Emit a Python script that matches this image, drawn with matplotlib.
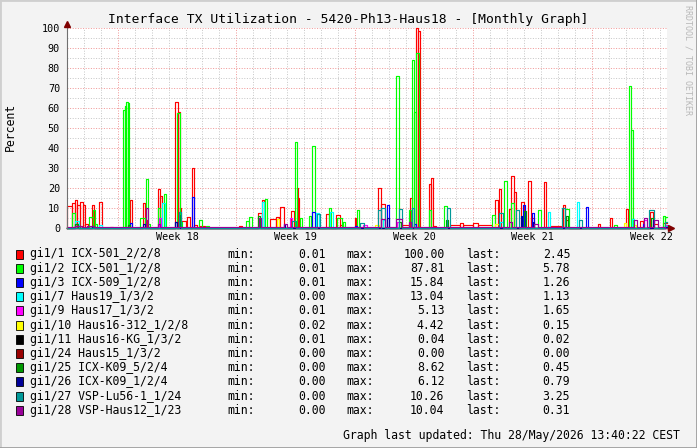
import matplotlib
matplotlib.use('Agg')
import matplotlib.pyplot as plt
from matplotlib.patches import Rectangle
from matplotlib.lines import Line2D

W, H = 697, 448
MONO = 'DejaVu Sans Mono'

# time axis in days from the left edge of the graph
T_END = 35.44
WEEK_STARTS = [3, 10, 17, 24, 31]
WEEK_LABELS = ['Week 18', 'Week 19', 'Week 20', 'Week 21', 'Week 22']

TITLE = 'Interface TX Utilization - 5420-Ph13-Haus18 - [Monthly Graph]'

# series: (start_day, end_day, percent) bursts, baseline between them
red = [(0.00, 0.30, 11), (0.30, 0.45, 12.5), (0.45, 0.62, 14), (0.62, 0.77, 11.5), (0.77, 0.92, 13),
       (0.92, 1.06, 11.5), (1.06, 1.24, 2), (1.48, 1.62, 11.5), (1.89, 2.07, 13), (2.54, 2.72, 0.8),
       (3.72, 3.84, 14), (4.49, 4.61, 12.5), (4.61, 4.73, 4), (5.38, 5.50, 19.5), (5.50, 5.64, 16),
       (6.38, 6.56, 63), (6.56, 6.67, 58), (6.67, 6.73, 10), (6.73, 7.03, 3.5), (7.09, 7.27, 5.5),
       (7.38, 7.50, 30), (7.50, 7.70, 1.5), (7.86, 8.15, 1), (10.16, 10.34, 1), (11.28, 11.52, 7.8),
       (11.52, 11.64, 14), (12.00, 12.35, 4.5), (12.35, 12.52, 5.5), (12.58, 12.82, 10.8),
       (13.23, 13.41, 8.6), (13.59, 13.65, 20), (13.65, 13.71, 15), (15.30, 15.48, 7), (15.89, 16.13, 6.5),
       (16.13, 16.30, 1.5), (17.01, 17.07, 5), (18.37, 18.55, 20), (18.55, 18.78, 12), (19.80, 20.20, 1.5),
       (20.26, 20.38, 15), (20.61, 20.73, 100), (20.73, 20.85, 98.5), (21.38, 21.50, 22), (21.50, 21.62, 25),
       (21.62, 21.80, 1), (22.62, 23.20, 1.6), (23.20, 23.40, 2.6), (23.40, 24.00, 1.6), (24.00, 24.30, 2.5),
       (24.30, 25.10, 1.6), (25.28, 25.46, 14), (25.52, 25.63, 19.5), (26.11, 26.23, 9.5), (26.23, 26.40, 26),
       (26.40, 26.52, 18), (26.82, 27.00, 13), (27.23, 27.41, 23.5), (27.41, 27.58, 5), (28.17, 28.29, 23),
       (28.53, 29.20, 1), (29.30, 29.42, 11.6), (29.42, 29.60, 4), (31.36, 31.48, 2), (32.07, 32.19, 5),
       (33.02, 33.14, 9.5), (33.84, 34.02, 3.5), (34.45, 34.60, 8), (34.60, 34.90, 2), (35.20, 35.44, 2.45)]
green = [(0.30, 0.47, 7.6), (0.47, 0.70, 2), (1.30, 1.54, 5.8), (1.54, 1.65, 9), (1.65, 1.80, 2),
         (3.31, 3.43, 59), (3.43, 3.49, 61), (3.49, 3.60, 63), (3.60, 3.66, 62.5), (4.31, 4.61, 5),
         (4.67, 4.78, 24.5), (4.78, 4.90, 2), (5.38, 5.49, 10), (5.73, 5.85, 17), (6.50, 6.67, 57.5),
         (6.67, 6.80, 3), (7.80, 7.97, 4), (8.20, 8.40, 1), (10.57, 10.75, 3.5), (10.75, 10.93, 5.5),
         (11.70, 11.81, 14.5), (13.47, 13.59, 43), (13.76, 13.88, 5), (14.29, 14.41, 6), (14.47, 14.65, 41),
         (15.48, 15.60, 10), (15.95, 16.24, 5), (16.30, 16.42, 3), (17.13, 17.25, 9), (19.43, 19.61, 76),
         (20.20, 20.32, 9), (20.38, 20.50, 84), (20.50, 20.61, 58), (20.61, 20.79, 87.8), (21.38, 21.50, 9),
         (22.27, 22.45, 11), (25.10, 25.28, 6.7), (25.81, 25.99, 23.5), (26.23, 26.40, 12.5),
         (27.82, 28.00, 9), (29.42, 29.65, 9.5), (32.30, 32.50, 1.5), (33.19, 33.31, 71), (33.31, 33.43, 49),
         (35.19, 35.31, 6), (35.31, 35.44, 5.78)]
blue = [(0.47, 0.70, 2), (3.72, 3.84, 2.5), (6.38, 6.50, 3), (7.38, 7.50, 15.8), (14.47, 14.65, 8.3),
        (17.00, 17.10, 1), (18.90, 19.02, 11.6), (20.50, 20.60, 2), (26.94, 27.05, 11.5), (27.47, 27.58, 7.5),
        (30.65, 30.77, 10.8), (34.00, 34.10, 2), (35.30, 35.44, 1.26)]
cyan = [(0.47, 0.71, 3.8), (1.89, 2.07, 1.5), (5.61, 5.79, 12.6), (11.52, 11.64, 13), (14.71, 14.88, 7.5),
        (15.54, 15.71, 8.3), (18.66, 18.78, 4), (25.60, 25.75, 3), (28.41, 28.53, 8.3), (30.12, 30.24, 13),
        (33.37, 33.49, 4.5), (35.30, 35.44, 1.13)]
magenta = [(5.43, 5.55, 5.1), (11.34, 11.46, 4.5), (13.17, 13.29, 5), (17.50, 17.70, 1.5), (19.50, 19.60, 3),
           (26.80, 26.90, 3), (34.10, 34.25, 4), (35.30, 35.44, 1.65)]
yellow = [(12.40, 12.52, 4.4), (18.20, 18.40, 1.5), (25.30, 25.50, 2), (32.90, 33.02, 2.5),
          (33.50, 33.60, 1.5), (35.30, 35.44, 0.15)]
black = [(12.00, 12.20, 0.04)]
darkred = []
darkgreen = [(0.47, 0.65, 2), (3.60, 3.72, 1.5), (6.60, 6.70, 6.5), (11.30, 11.40, 6), (19.60, 19.70, 3),
             (22.40, 22.50, 4), (27.00, 27.10, 8.6), (29.50, 29.60, 6), (34.50, 34.60, 5), (35.30, 35.44, 0.45)]
navy = [(1.50, 1.60, 1), (4.50, 4.60, 2), (6.40, 6.50, 3), (12.80, 12.90, 2), (18.90, 19.00, 5),
        (26.80, 26.90, 6.1), (27.50, 27.60, 3), (34.60, 34.70, 4), (35.30, 35.44, 0.79)]
teal = [(6.62, 6.73, 8.3), (13.30, 13.50, 3.5), (14.75, 14.95, 7.2), (17.31, 17.54, 2.5), (18.37, 18.55, 9),
        (18.55, 18.78, 10), (19.61, 19.79, 9.5), (20.38, 20.50, 10), (22.45, 22.62, 10), (25.52, 25.75, 7.8),
        (26.52, 26.70, 9), (29.24, 29.42, 10.26), (30.24, 30.40, 4), (34.37, 34.66, 9), (35.31, 35.44, 3.25)]
purple = [(0.50, 0.90, 1), (1.20, 1.60, 1), (4.67, 4.78, 10), (5.40, 5.50, 2), (11.34, 11.46, 5),
          (12.80, 13.00, 2), (18.55, 18.78, 4.5), (19.43, 19.79, 4.5), (20.20, 20.30, 3), (26.10, 26.30, 3),
          (27.60, 27.80, 2), (33.49, 33.66, 4), (34.07, 34.25, 5), (34.66, 34.90, 4), (35.31, 35.44, 0.31)]

SERIES = [red, green, blue, cyan, magenta, yellow, black, darkred, darkgreen, navy, teal, purple]
BASES = [0.2, 0.3, 0.2, 0.2, 0.3, 0.1, 0.02, 0.0, 0.2, 0.3, 0.2, 0.4]
COLORS = ['#FF0000', '#00FF00', '#0000FF', '#00FFFF', '#FF00FF', '#FFFF00',
          '#000000', '#990000', '#009900', '#000099', '#009999', '#990099']
LABELS = ['gi1/1 ICX-501_2/2/8', 'gi1/2 ICX-501_1/2/8', 'gi1/3 ICX-509_1/2/8', 'gi1/7 Haus19_1/3/2',
          'gi1/9 Haus17_1/3/2', 'gi1/10 Haus16-312_1/2/8', 'gi1/11 Haus16-KG_1/3/2', 'gi1/24 Haus15_1/3/2',
          'gi1/25 ICX-K09_5/2/4', 'gi1/26 ICX-K09_1/2/4', 'gi1/27 VSP-Lu56-1_1/24', 'gi1/28 VSP-Haus12_1/23']
MINS = [0.01, 0.01, 0.01, 0.00, 0.01, 0.02, 0.01, 0.00, 0.00, 0.00, 0.00, 0.00]
MAXS = [100.00, 87.81, 15.84, 13.04, 5.13, 4.42, 0.04, 0.00, 8.62, 6.12, 10.26, 10.04]
LASTS = [2.45, 5.78, 1.26, 1.13, 1.65, 0.15, 0.02, 0.00, 0.45, 0.79, 3.25, 0.31]
UPDATED = 'Graph last updated: Thu 28/May/2026 13:40:22 CEST'


def _steps(events, base):
	xs, ys = [0.0], [base]
	for a, b, v in events:
		if b >= T_END:
			xs += [a, T_END]
			ys += [v, v]
			return xs, ys
		xs += [a, b]
		ys += [v, base]
	xs.append(T_END)
	ys.append(base)
	return xs, ys


fy = lambda y: 1 - y / float(H)
fx = lambda x: x / float(W)

fig = plt.figure(figsize=(W / 100., H / 100.), dpi=100, facecolor='#F3F3F3')
ax = fig.add_axes([fx(67), fy(228.3), 600. / W, 200. / H])
ax.set_facecolor('#FFFFFF')
ax.set_xlim(0, T_END)
ax.set_ylim(0, 100)
for s in ax.spines.values():
	s.set_visible(False)

# grid: minor gray, major red, both dotted
dots = (0, (1, 1.6))
GRID = dict(lw=0.72, ls=dots, zorder=1)
for d in range(1, 36):
	if d not in WEEK_STARTS:
		ax.axvline(d, color='#C8C8C8', **GRID)
for p in range(5, 100, 10):
	ax.axhline(p, color='#C8C8C8', **GRID)
for d in WEEK_STARTS:
	ax.axvline(d, color='#F09A9A', **GRID)
for p in range(10, 101, 10):
	ax.axhline(p, color='#F09A9A', **GRID)

# data lines, drawn in legend order (purple last, on top)
for i, ev in enumerate(SERIES):
	xs, ys = _steps(ev, BASES[i])
	ax.plot(xs, ys, drawstyle='steps-post', color=COLORS[i], lw=0.85, zorder=3 + i, clip_on=False)

# axes with arrows
ax.plot([0, 0], [0, 102], color='#707070', lw=0.8, clip_on=False, zorder=20)
ax.plot([0, 35.6], [0, 0], color='#707070', lw=0.8, clip_on=False, zorder=2)
ax.plot([0], [102.3], marker='^', ms=4.5, color='#7F0000', clip_on=False, zorder=21)
ax.plot([35.7], [0], marker='>', ms=4.5, color='#7F0000', clip_on=False, zorder=21)

ax.set_yticks(range(0, 101, 10))
ax.set_yticklabels([str(v) for v in range(0, 101, 10)], family=MONO, fontsize=7.3)
ax.set_xticks([w + 3.5 for w in WEEK_STARTS])
ax.set_xticklabels(WEEK_LABELS, family=MONO, fontsize=7.3)
ax.tick_params(axis='both', length=0)
ax.tick_params(axis='y', pad=5)
ax.tick_params(axis='x', pad=3)

# texts
fig.text(fx(348), fy(19), TITLE, family=MONO, fontsize=9.4, ha='center', va='center')
fig.text(fx(10), fy(127), 'Percent', family=MONO, fontsize=8.3, rotation=90, ha='center', va='center')
fig.text(fx(688), fy(5), 'RRDTOOL / TOBI OETIKER', family=MONO, fontsize=6, rotation=-90,
         ha='center', va='top', color='#B8B8B8')

# legend
for i in range(len(LABELS)):
	y = 254 + 14.2 * i
	fig.add_artist(Rectangle((fx(15.5), fy(y + 4.5)), 7.5 / W, 9. / H, transform=fig.transFigure,
	                         facecolor=COLORS[i], edgecolor='#000000', lw=0.6))
	fig.text(fx(30), fy(y), LABELS[i], family=MONO, fontsize=8.3, ha='left', va='center')
	fig.text(fx(227.6), fy(y), 'min:', family=MONO, fontsize=8.3, ha='left', va='center')
	fig.text(fx(325.3), fy(y), '%.2f' % MINS[i], family=MONO, fontsize=8.3, ha='right', va='center')
	fig.text(fx(346.7), fy(y), 'max:', family=MONO, fontsize=8.3, ha='left', va='center')
	fig.text(fx(444.4), fy(y), '%.2f' % MAXS[i], family=MONO, fontsize=8.3, ha='right', va='center')
	fig.text(fx(465.8), fy(y), 'last:', family=MONO, fontsize=8.3, ha='left', va='center')
	fig.text(fx(570.2), fy(y), '%.2f' % LASTS[i], family=MONO, fontsize=8.3, ha='right', va='center')

fig.text(fx(680), fy(435), UPDATED, family=MONO, fontsize=8.3, ha='right', va='center')

# 3d frame
fig.add_artist(Line2D([0, 0, 1], [0, 1, 1], transform=fig.transFigure, color='#CFCFCF', lw=2))
fig.add_artist(Line2D([0, 1, 1], [0, 0, 1], transform=fig.transFigure, color='#9E9E9E', lw=2))

plt.savefig('out.png', dpi=100, facecolor=fig.get_facecolor())
